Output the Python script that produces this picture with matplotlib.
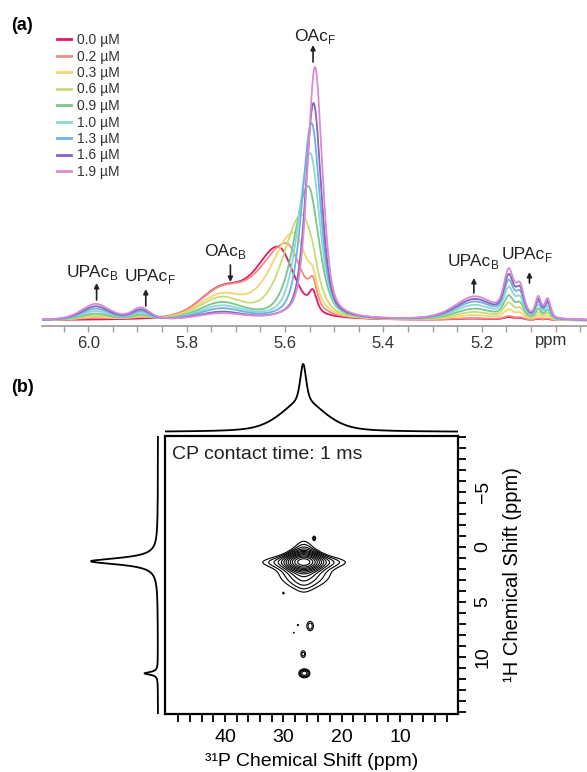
import numpy as np
import matplotlib
matplotlib.use('Agg')
import matplotlib.pyplot as plt

plt.rcParams['font.family'] = ['Liberation Sans', 'DejaVu Sans']

# ---------------- panel (a) data (heights in arbitrary units) ----------------
conc_labels = ['0.0 µM', '0.2 µM', '0.3 µM', '0.6 µM', '0.9 µM',
               '1.0 µM', '1.3 µM', '1.6 µM', '1.9 µM']
colors = ['#e3186c', '#f28e80', '#f4d670', '#c6dc76', '#78c68a',
          '#8ad8d6', '#70b0e2', '#8566bd', '#da8ad6']
main_ppm = [5.614, 5.598, 5.583, 5.566, 5.553, 5.549, 5.546, 5.542, 5.539]
main_hwhm_left = [0.055, 0.065, 0.054, 0.045, 0.034, 0.028, 0.023, 0.019, 0.018]
main_hwhm_right = [0.040, 0.040, 0.036, 0.030, 0.026, 0.023, 0.021, 0.019, 0.018]
main_amp = [72, 76, 87, 105, 134, 167, 197, 217, 253]
bound_amp = [27, 25, 22, 20, 16, 13, 10.5, 7.5, 6]
free_amp = [18, 20, 15, 8, 0, 0, 0, 0, 0]
upac_left_scale = [0.0, 0.09, 0.18, 0.27, 0.39, 0.55, 0.70, 0.85, 1.0]
upac_right_scale = [0.06, 0.08, 0.21, 0.34, 0.48, 0.64, 0.78, 0.89, 1.0]
bound_ppm, bound_hwhm = 5.73, 0.052
free_ppm, free_hwhm = 5.543, 0.009
upac_left_ppm = [5.985, 5.893]
upac_left_hwhm = [0.035, 0.022]
upac_left_amp = [16, 11.5]
upac_right_ppm = [5.215, 5.145, 5.122, 5.085, 5.066]
upac_right_hwhm = [0.048, 0.012, 0.010, 0.007, 0.007]
upac_right_amp = [23, 43, 28, 20, 19]
a_major_ticks = [6.0, 5.8, 5.6, 5.4, 5.2]
a_tick_labels = ['6.0', '5.8', '5.6', '5.4', '5.2']

# ---------------- panel (b) data ----------------
p31_ticks = [40, 30, 20, 10]
h1_ticks = [-5, 0, 5, 10]
proj31_ppm = [26.6, 26.6]
proj31_hwhm = [0.6, 4.5]
proj31_amp = [0.55, 0.45]
proj1h_ppm = [1.3, 11.5]
proj1h_hwhm = [0.36, 0.15]
proj1h_amp = [1.0, 0.2]
main_cross = dict(p31=26.5, h1=1.37, w31=1.6, w1=0.46, amp=1.0)
cross_p31 = [26.3, 24.7, 30.0, 25.4, 27.5, 28.2, 26.6, 26.4]
cross_h1 = [2.5, -0.8, 4.2, 7.2, 7.1, 7.8, 9.75, 11.5]
cross_w31 = [4.3, 0.25, 0.15, 0.6, 0.15, 0.12, 0.45, 0.7]
cross_w1 = [1.2, 0.2, 0.1, 0.45, 0.1, 0.1, 0.35, 0.3]
cross_amp = [0.036, 0.026, 0.022, 0.034, 0.023, 0.022, 0.032, 0.07]


def pv(x, c, w, eta=0.5):
    d = (x - c) / w
    return eta / (1 + d * d) + (1 - eta) * np.exp(-np.log(2) * d * d)


def pv_asym(x, c, wl, wr, eta=0.5):
    w = np.where(x > c, wl, wr)   # ppm axis: larger ppm = left side
    return pv(x, c, w, eta)


W, H = 587, 772
fig = plt.figure(figsize=(W / 100, H / 100), dpi=100)


def rect(x0, y0, x1, y1):
    return [x0 / W, 1 - y1 / H, (x1 - x0) / W, (y1 - y0) / H]


# ================= panel (a) =================
ax = fig.add_axes(rect(42, 20, 587, 326))
x = np.linspace(4.97, 6.11, 4000)
handles = []
for k in range(len(conc_labels)):
    y = (bound_amp[k] * pv(x, bound_ppm, bound_hwhm, eta=0.25)
         + main_amp[k] * pv_asym(x, main_ppm[k], main_hwhm_left[k], main_hwhm_right[k])
         + free_amp[k] * pv(x, free_ppm, free_hwhm))
    for c, w, a in zip(upac_left_ppm, upac_left_hwhm, upac_left_amp):
        y = y + upac_left_scale[k] * a * pv(x, c, w)
    for c, w, a in zip(upac_right_ppm, upac_right_hwhm, upac_right_amp):
        y = y + upac_right_scale[k] * a * pv(x, c, w)
    ln, = ax.plot(x, y, color=colors[k], lw=1.3, label=conc_labels[k], zorder=2 + k)
    handles.append(ln)

ax.set_xlim(6.094, 4.986)
ax.set_ylim(-5.5, 300.5)
for s in ['top', 'left', 'right']:
    ax.spines[s].set_visible(False)
ax.spines['bottom'].set_color('#a0a0a0')
ax.spines['bottom'].set_linewidth(1.3)
ax.set_yticks([])
ax.set_xticks(a_major_ticks)
ax.set_xticklabels(a_tick_labels)
ax.set_xticks(np.arange(5.0, 6.06, 0.05), minor=True)
ax.tick_params(axis='x', which='both', direction='out', length=4, width=1.0,
               color='#a0a0a0', labelsize=12, labelcolor='#333333', pad=3)
ax.text(5.058, -20.5, 'ppm', ha='center', va='center', fontsize=12, color='#333333')

leg = ax.legend(handles=handles, loc='upper left', bbox_to_anchor=(57 / W, 1 - 33 / H),
                bbox_transform=fig.transFigure, frameon=False, fontsize=10,
                handlelength=1.0, handletextpad=0.45, labelspacing=0.18,
                borderpad=0, borderaxespad=0)
for t in leg.get_texts():
    t.set_color('#333333')
for l in leg.get_lines():
    l.set_linewidth(2.0)

arr_kw = dict(arrowstyle='-|>', color='#222222', lw=1.2, mutation_scale=7,
              shrinkA=0, shrinkB=0)
labels_a = [
    ('OAc', 'F', 5.539, 283.5, 5.543, 258.5, 275.5),
    ('OAc', 'B', 5.722, 68.5, 5.711, 55.5, 38.5),
    ('UPAc', 'B', 5.992, 47.5, 5.983, 20.5, 37.5),
    ('UPAc', 'F', 5.874, 43.5, 5.883, 14.5, 31.5),
    ('UPAc', 'B', 5.218, 58.5, 5.216, 27.5, 42.5),
    ('UPAc', 'F', 5.108, 65.5, 5.103, 37.5, 48.5),
]
for txt, sub, tx, ty, axx, ytail, ytip in labels_a:
    t = ax.text(tx + 0.008, ty, txt, fontsize=12.5, color='#222222',
                ha='center', va='center')
    ax.annotate(sub, xy=(1.0, 0.22), xycoords=t, fontsize=8.5, color='#222222',
                ha='left', va='center')
    ax.annotate('', xy=(axx, ytip), xytext=(axx, ytail), arrowprops=arr_kw)

fig.text(22 / W, 1 - 25 / H, '(a)', fontsize=13, fontweight='bold', ha='center', va='center')
fig.text(22 / W, 1 - 388 / H, '(b)', fontsize=13, fontweight='bold', ha='center', va='center')

# ================= panel (b) =================
xlim31 = (50.3, 0.05)
ylim1h = (15.2, -10.1)
axb = fig.add_axes(rect(165, 436, 458, 714))
axb.set_xlim(*xlim31)
axb.set_ylim(*ylim1h)

g31 = np.linspace(0, 51, 800)
g1 = np.linspace(-11, 16, 800)
X, Y = np.meshgrid(g31, g1)
Z = main_cross['amp'] * pv(X, main_cross['p31'], main_cross['w31'], 0.35) \
    * pv(Y, main_cross['h1'], main_cross['w1'], 0.35)
for p, h, wp, wh, a in zip(cross_p31, cross_h1, cross_w31, cross_w1, cross_amp):
    Z = Z + a * np.exp(-np.log(2) * (((X - p) / wp) ** 2 + ((Y - h) / wh) ** 2))
levels = 0.02 * 1.39 ** np.arange(12)
axb.contour(X, Y, Z, levels=levels, colors='black', linewidths=0.8)

for s in axb.spines.values():
    s.set_linewidth(1.6)
axb.set_xticks(p31_ticks)
axb.set_xticks(np.arange(2, 50, 2), minor=True)
axb.set_yticks(h1_ticks)
axb.set_yticks(np.arange(-10, 16, 1), minor=True)
axb.tick_params(which='both', direction='out', length=6, width=1.3,
                top=False, left=False, right=True, bottom=True,
                labelleft=False, labelright=True, labelsize=14)
axb.tick_params(axis='x', which='both', pad=5)
axb.tick_params(axis='y', which='both', labelrotation=90, pad=6)
for t in axb.get_yticklabels():
    t.set_va('center')
axb.set_xlabel('³¹P Chemical Shift (ppm)', fontsize=14, labelpad=5)
axb.yaxis.set_label_position('right')
axb.set_ylabel('¹H Chemical Shift (ppm)', fontsize=14.5, labelpad=8, rotation=90)
axb.text(0.023, 0.932, 'CP contact time: 1 ms', transform=axb.transAxes,
         fontsize=14, ha='left', va='center', color='#222222')

# top projection (31P)
axt = fig.add_axes(rect(165, 355, 458, 436))
xt = np.linspace(0.05, 50.3, 1500)
yt = sum(a * pv(xt, c, w) for c, w, a in zip(proj31_ppm, proj31_hwhm, proj31_amp))
axt.plot(xt, yt, color='black', lw=1.3)
axt.set_xlim(*xlim31)
axt.set_ylim(-0.059, 1.132)
axt.axis('off')

# left projection (1H)
axl = fig.add_axes(rect(85, 436, 162, 714))
yl = np.linspace(-10.1, 15.2, 1500)
xl = sum(a * pv(yl, c, w, eta=1.0) for c, w, a in zip(proj1h_ppm, proj1h_hwhm, proj1h_amp))
axl.plot(xl, yl, color='black', lw=1.3)
axl.set_xlim(1.0896, -0.06)
axl.set_ylim(*ylim1h)
axl.axis('off')

fig.savefig('out.png', dpi=100)
